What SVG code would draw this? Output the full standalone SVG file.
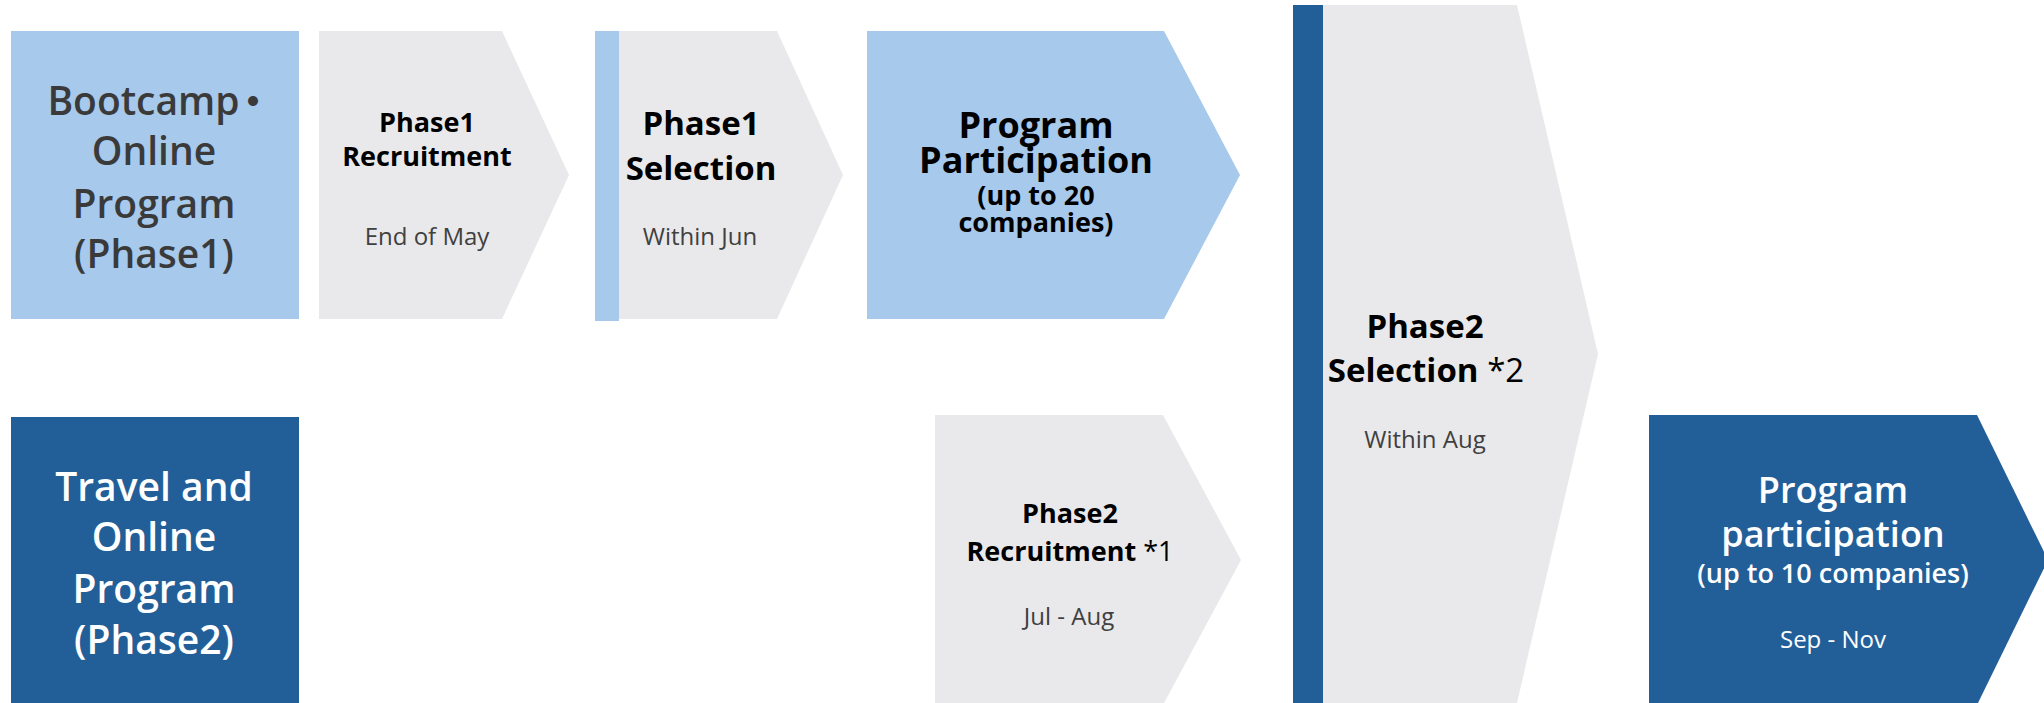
<svg xmlns="http://www.w3.org/2000/svg" width="2044" height="703" viewBox="0 0 2044 703">
<style>
.lb{fill:#A7C9EB}
.gr{fill:#E9E9EB}
.db{fill:#225F99}
text{font-family:"Open Sans","Noto Sans","Liberation Sans","Noto Sans CJK JP",sans-serif;text-anchor:middle}
.t1{font-size:39px;font-weight:600;fill:#3A3A3A}
.t2{font-size:39px;font-weight:600;fill:#FFFFFF}
.b28{font-size:27px;font-weight:700;fill:#000}
.b34{font-size:33px;font-weight:700;fill:#000}
.b37{font-size:36px;font-weight:700;fill:#000}
.r{font-weight:400}
.d{font-size:24px;font-weight:400;fill:#404040}
.w37{font-size:36px;font-weight:600;fill:#FFFFFF}
.w27{font-size:27px;font-weight:600;fill:#FFFFFF}
.wd{font-size:24px;font-weight:400;fill:#FFFFFF}
</style>
<g id="bootcamp">
<rect class="lb" x="11" y="31" width="288" height="288"/>
<text class="t1" x="160" y="115">Bootcamp<tspan dx="-6">・</tspan></text>
<text class="t1" x="154" y="165">Online</text>
<text class="t1" x="154" y="218">Program</text>
<text class="t1" x="154" y="268">(Phase1)</text>
</g>
<g id="phase1-recruitment">
<polygon class="gr" points="319,31 502,31 569,175 502,319 319,319"/>
<text class="b28" x="427" y="132">Phase1</text>
<text class="b28" x="427" y="166">Recruitment</text>
<text class="d" x="427" y="245">End of May</text>
</g>
<g id="phase1-selection">
<polygon class="gr" points="619,31 777,31 843,175 777,319 619,319"/>
<rect class="lb" x="595" y="31" width="24" height="290"/>
<text class="b34" x="701" y="135">Phase1</text>
<text class="b34" x="701" y="180">Selection</text>
<text class="d" x="700" y="245">Within Jun</text>
</g>
<g id="program-participation-1">
<polygon class="lb" points="867,31 1164,31 1240,175 1164,319 867,319"/>
<text class="b37" x="1036" y="138">Program</text>
<text class="b37" x="1036" y="173">Participation</text>
<text class="b28" x="1036" y="205">(up to 20</text>
<text class="b28" x="1036" y="232">companies)</text>
</g>
<g id="travel">
<rect class="db" x="11" y="417" width="288" height="286"/>
<text class="t2" x="154" y="501">Travel and</text>
<text class="t2" x="154" y="551">Online</text>
<text class="t2" x="154" y="603">Program</text>
<text class="t2" x="154" y="654">(Phase2)</text>
</g>
<g id="phase2-recruitment">
<polygon class="gr" points="935,415 1163,415 1241,560 1163,705 935,705"/>
<text class="b28" x="1070" y="523">Phase2</text>
<text class="b28" x="1070" y="561">Recruitment <tspan class="r">*1</tspan></text>
<text class="d" x="1069" y="625">Jul - Aug</text>
</g>
<g id="phase2-selection">
<polygon class="gr" points="1323,5 1517,5 1598,354 1517,703 1323,703"/>
<rect class="db" x="1293" y="5" width="30" height="698"/>
<text class="b34" x="1425" y="338">Phase2</text>
<text class="b34" x="1426" y="382">Selection <tspan class="r">*2</tspan></text>
<text class="d" x="1425" y="448">Within Aug</text>
</g>
<g id="program-participation-2">
<polygon class="db" points="1649,415 1977,415 2048,560 1977,705 1649,705"/>
<text class="w37" x="1833" y="503">Program</text>
<text class="w37" x="1833" y="547">participation</text>
<text class="w27" x="1833" y="583">(up to 10 companies)</text>
<text class="wd" x="1833" y="648">Sep - Nov</text>
</g>
<g id="connectors"/>
</svg>
